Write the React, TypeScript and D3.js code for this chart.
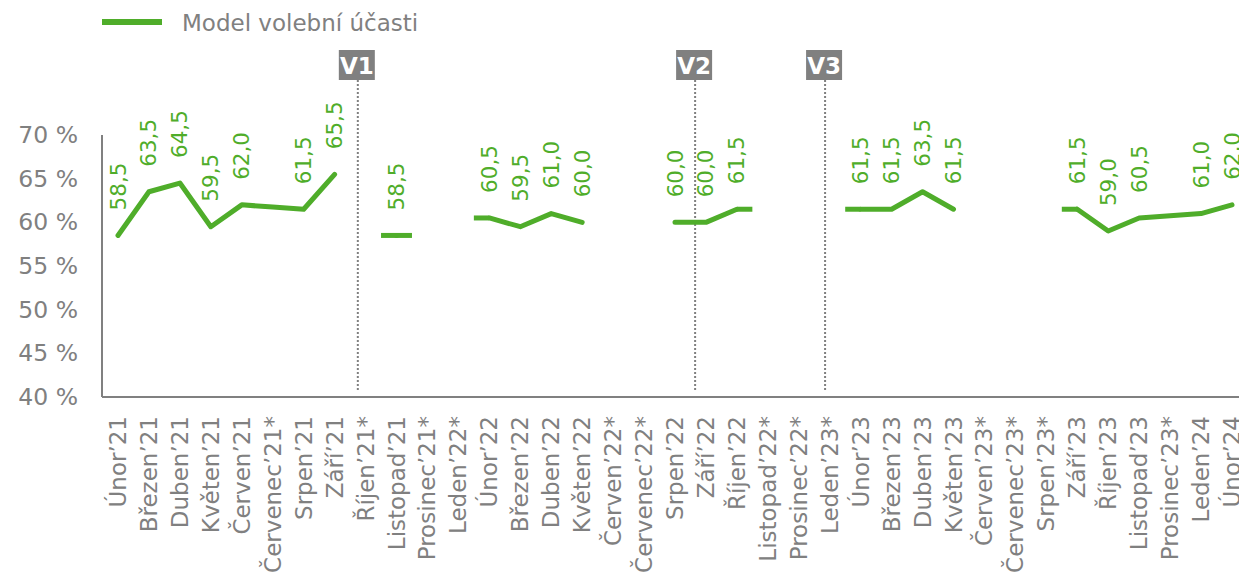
import { useEffect, useRef } from 'react';
import * as d3 from 'd3';

const MONTHS = [
  'Únor’21', 'Březen’21', 'Duben’21', 'Květen’21', 'Červen’21', 'Červenec’21*', 'Srpen’21', 'Září’21',
  'Říjen’21*', 'Listopad’21', 'Prosinec’21*', 'Leden’22*', 'Únor’22', 'Březen’22', 'Duben’22', 'Květen’22',
  'Červen’22*', 'Červenec’22*', 'Srpen’22', 'Září’22', 'Říjen’22', 'Listopad’22*', 'Prosinec’22*', 'Leden’23*',
  'Únor’23', 'Březen’23', 'Duben’23', 'Květen’23', 'Červen’23*', 'Červenec’23*', 'Srpen’23*', 'Září’23',
  'Říjen’23', 'Listopad’23', 'Prosinec’23*', 'Leden’24', 'Únor’24',
];

// turnout model, null = no value (gap)
const TURNOUT: (number | null)[] = [
  58.5, 63.5, 64.5, 59.5, 62.0, 61.75, 61.5, 65.5,
  null, 58.5, null, null, 60.5, 59.5, 61.0, 60.0,
  null, null, 60.0, 60.0, 61.5, null, null, null,
  61.5, 61.5, 63.5, 61.5, null, null, null, 61.5,
  59.0, 60.5, 60.75, 61.0, 62.0,
];

// short flat stubs drawn at segment ends
const STUBS = [
  { month: 'Listopad’21', side: 'both' },
  { month: 'Únor’22', side: 'left' },
  { month: 'Říjen’22', side: 'right' },
  { month: 'Únor’23', side: 'left' },
  { month: 'Září’23', side: 'left' },
];

// vertical markers, position in month index units
const EVENTS = [
  { label: 'V1', pos: 7.75 },
  { label: 'V2', pos: 18.65 },
  { label: 'V3', pos: 22.85 },
];

const Y_TICKS = [40, 45, 50, 55, 60, 65, 70];
const LEGEND = 'Model volební účasti';

const GREEN = '#4fad2a';
const GREY = '#808080';
const FONT = '"DejaVu Sans", Verdana, sans-serif';

export default function App() {
  const svgRef = useRef<SVGSVGElement>(null);

  useEffect(() => {
    const width = 1239;
    const height = 576;
    const svg = d3.select(svgRef.current);
    svg.selectAll('*').remove();
    svg.attr('width', width).attr('height', height);

    const x = d3.scaleLinear().domain([0, MONTHS.length - 1]).range([118, 1232]);
    const y = d3.scaleLinear().domain([40, 70]).range([397, 135]);
    const step = x(1) - x(0);

    // legend
    svg.append('line')
      .attr('x1', 102).attr('x2', 162).attr('y1', 22).attr('y2', 22)
      .attr('stroke', GREEN).attr('stroke-width', 6);
    svg.append('text')
      .attr('x', 182).attr('y', 31)
      .attr('fill', GREY).style('font-family', FONT).style('font-size', '23px')
      .text(LEGEND);

    // axes
    svg.append('line')
      .attr('x1', 102).attr('x2', width).attr('y1', y(40)).attr('y2', y(40))
      .attr('stroke', GREY).attr('stroke-width', 2);
    svg.append('line')
      .attr('x1', 102).attr('x2', 102).attr('y1', y(70)).attr('y2', y(40))
      .attr('stroke', GREY).attr('stroke-width', 2);

    svg.selectAll('.ytick')
      .data(Y_TICKS).join('text')
      .attr('class', 'ytick')
      .attr('x', 78).attr('y', d => y(d))
      .attr('text-anchor', 'end').attr('dominant-baseline', 'central')
      .attr('fill', GREY).style('font-family', FONT).style('font-size', '23.5px')
      .text(d => `${d} %`);

    svg.selectAll('.xtick')
      .data(MONTHS).join('text')
      .attr('class', 'xtick')
      .attr('transform', (_, i) => `translate(${x(i)},416) rotate(-90)`)
      .attr('text-anchor', 'end').attr('dominant-baseline', 'central')
      .attr('fill', GREY).style('font-family', FONT).style('font-size', '23px')
      .text(d => d);

    // event markers
    const ev = svg.selectAll('.ev').data(EVENTS).join('g').attr('class', 'ev');
    ev.append('line')
      .attr('x1', d => x(d.pos)).attr('x2', d => x(d.pos))
      .attr('y1', 80).attr('y2', 391)
      .attr('stroke', GREY).attr('stroke-width', 2).attr('stroke-dasharray', '2,2');
    ev.append('rect')
      .attr('x', d => x(d.pos) - 19).attr('y', 50).attr('width', 36).attr('height', 30)
      .attr('fill', GREY);
    ev.append('text')
      .attr('x', d => x(d.pos) - 1).attr('y', 66)
      .attr('text-anchor', 'middle').attr('dominant-baseline', 'central')
      .attr('fill', 'white').style('font-family', FONT).style('font-size', '23px')
      .style('font-weight', 'bold')
      .text(d => d.label);

    // line
    const pts = TURNOUT.map((v, i) => ({ i, v }));
    const line = d3.line<{ i: number; v: number | null }>()
      .defined(d => d.v !== null)
      .x(d => x(d.i)).y(d => y(d.v as number));
    svg.append('path')
      .attr('d', line(pts))
      .attr('fill', 'none').attr('stroke', GREEN).attr('stroke-width', 5)
      .attr('stroke-linejoin', 'round').attr('stroke-linecap', 'round');

    svg.selectAll('.stub')
      .data(STUBS).join('line')
      .attr('class', 'stub')
      .each(function (d) {
        const i = MONTHS.indexOf(d.month);
        const v = TURNOUT[i] as number;
        const half = step / 2;
        d3.select(this)
          .attr('x1', d.side === 'right' ? x(i) : x(i) - half)
          .attr('x2', d.side === 'left' ? x(i) : x(i) + half)
          .attr('y1', y(v)).attr('y2', y(v));
      })
      .attr('stroke', GREEN).attr('stroke-width', 5);

    // data labels, only for surveyed months
    const labelled = pts.filter(d => d.v !== null && !MONTHS[d.i].endsWith('*'));
    svg.selectAll('.dl')
      .data(labelled).join('text')
      .attr('class', 'dl')
      .attr('transform', d => `translate(${x(d.i)},${y(d.v as number) - 25}) rotate(-90)`)
      .attr('text-anchor', 'start').attr('dominant-baseline', 'central')
      .attr('fill', GREEN).style('font-family', FONT).style('font-size', '21.5px')
      .text(d => (d.v as number).toFixed(1).replace('.', ','));
  }, []);

  return (
    <div style={{ position: 'absolute', top: 0, left: 0 }}>
      <svg ref={svgRef} style={{ display: 'block' }} />
    </div>
  );
}
